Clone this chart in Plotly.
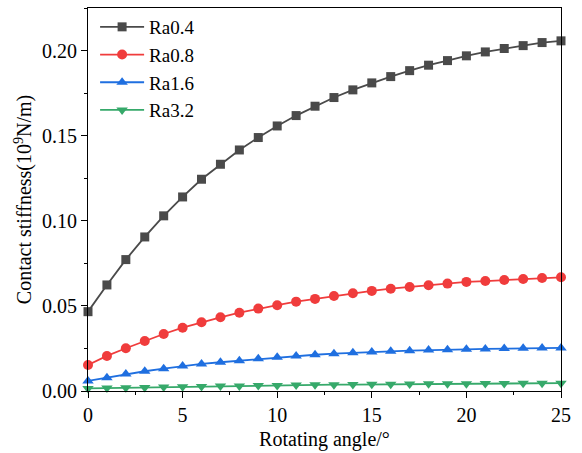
import plotly.graph_objects as go

angle = list(range(0, 26))
ra04 = [0.0466, 0.0623, 0.0772, 0.0905, 0.1029, 0.1140, 0.1244, 0.1332, 0.1416, 0.1489,
        0.1557, 0.1618, 0.1673, 0.1724, 0.1769, 0.1810, 0.1847, 0.1882, 0.1914, 0.1941,
        0.1969, 0.1992, 0.2012, 0.2029, 0.2047, 0.2057]
ra08 = [0.0153, 0.0206, 0.0251, 0.0294, 0.0335, 0.0372, 0.0404, 0.0433, 0.0460, 0.0484,
        0.0504, 0.0525, 0.0541, 0.0558, 0.0574, 0.0588, 0.0601, 0.0611, 0.0621, 0.0631,
        0.0641, 0.0646, 0.0652, 0.0658, 0.0664, 0.0668]
ra16 = [0.0059, 0.0078, 0.0100, 0.0116, 0.0131, 0.0147, 0.0159, 0.0169, 0.0178, 0.0190,
        0.0198, 0.0206, 0.0213, 0.0219, 0.0225, 0.0229, 0.0233, 0.0237, 0.0241, 0.0243,
        0.0245, 0.0247, 0.0249, 0.0251, 0.0252, 0.0253]
ra32 = [0.0015, 0.0017, 0.0019, 0.0021, 0.0023, 0.0025, 0.0027, 0.0029, 0.0030, 0.0032,
        0.0033, 0.0035, 0.0036, 0.0037, 0.0038, 0.0039, 0.0040, 0.0041, 0.0042, 0.0042,
        0.0043, 0.0044, 0.0044, 0.0045, 0.0045, 0.0046]

series = [
    ("Ra0.4", ra04, "#4a4a4a", "square", 9),
    ("Ra0.8", ra08, "#f03c3c", "circle", 10),
    ("Ra1.6", ra16, "#1f6fe0", "triangle-up", 10),
    ("Ra3.2", ra32, "#36a96a", "triangle-down", 10),
]

fig = go.Figure()
for name, ys, col, sym, sz in series:
    fig.add_trace(go.Scatter(
        x=angle, y=ys, name=name, mode="lines+markers",
        line=dict(color=col, width=1.8),
        marker=dict(symbol=sym, size=sz, color=col),
        cliponaxis=False,
    ))

fam = "Liberation Serif, Times New Roman, serif"
font = dict(family=fam, size=20, color="black")
axis_common = dict(
    showline=True, linecolor="black", linewidth=1.2, mirror=True,
    ticks="outside", ticklen=6, tickwidth=1.2, tickcolor="black",
    showgrid=False, zeroline=False, tickfont=font,
)
fig.update_xaxes(range=[0, 25], tick0=0, dtick=5,
                 minor=dict(ticks="outside", ticklen=3, dtick=2.5, tickcolor="black", tickwidth=1.2),
                 title=dict(text="Rotating angle/°", font=font, standoff=6), **axis_common)
fig.update_yaxes(range=[0, 0.225], tick0=0, dtick=0.05, tickformat=".2f",
                 minor=dict(ticks="outside", ticklen=3, dtick=0.025, tickcolor="black", tickwidth=1.2),
                 title=dict(text="Contact stiffness(10<sup>9</sup>N/m)", font=font, standoff=4), **axis_common)

fig.update_layout(
    width=582, height=453,
    margin=dict(l=88, r=21, t=8, b=62, autoexpand=False),
    plot_bgcolor="white", paper_bgcolor="white",
    font=font,
    legend=dict(x=0.015, y=1.0, xanchor="left", yanchor="top",
                bgcolor="rgba(0,0,0,0)", font=dict(family=fam, size=19, color="black"),
                itemwidth=44, tracegroupgap=0),
    showlegend=True,
)
fig.write_html("out.html")
